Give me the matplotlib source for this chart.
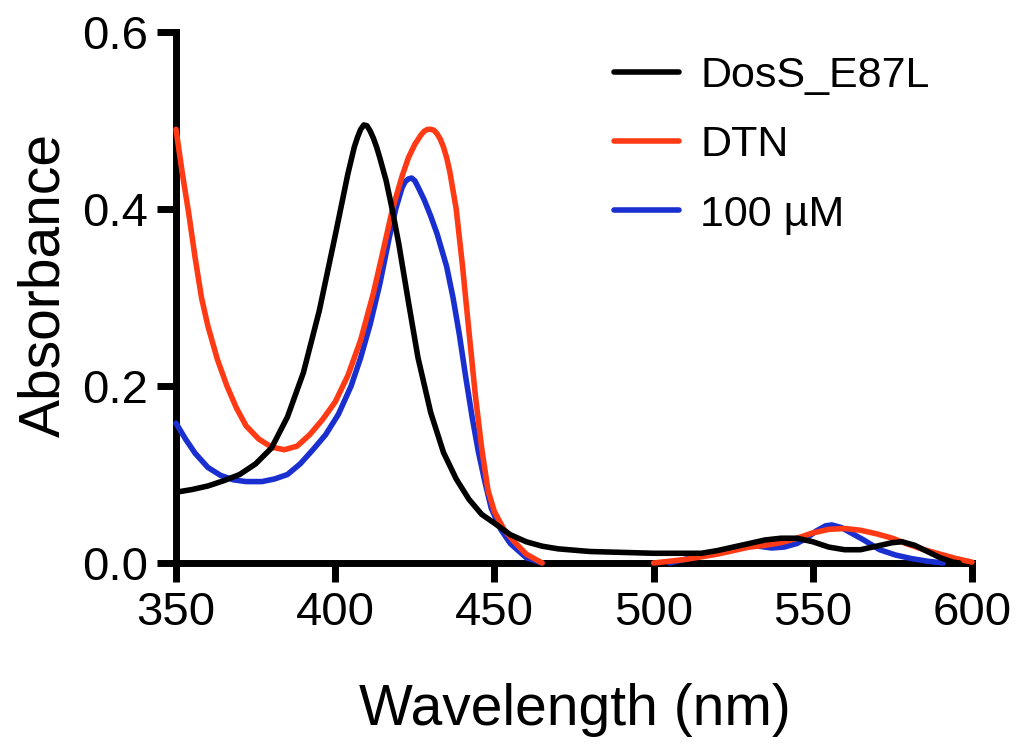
import matplotlib
matplotlib.use("Agg")
import matplotlib.pyplot as plt
import numpy as np

# wavelength (nm) and absorbance
wl_e87l = [350, 355, 360, 365, 370, 375, 380, 385, 390, 395, 400, 402, 404, 406,
           407, 408, 409, 410, 411, 412, 413, 414, 416, 418, 420, 423, 426, 430,
           434, 438, 442, 446, 450, 455, 460, 465, 470, 480, 490, 500, 510, 515,
           520, 525, 530, 535, 540, 545, 550, 555, 560, 565, 570, 575, 578, 582,
           586, 590, 594, 596]
abs_e87l = [0.080, 0.083, 0.087, 0.093, 0.100, 0.112, 0.130, 0.165, 0.215, 0.285,
            0.370, 0.405, 0.440, 0.470, 0.481, 0.490, 0.495, 0.494, 0.488, 0.480,
            0.470, 0.458, 0.432, 0.398, 0.360, 0.295, 0.232, 0.170, 0.125, 0.095,
            0.072, 0.055, 0.045, 0.032, 0.024, 0.019, 0.016, 0.013, 0.012, 0.011,
            0.011, 0.011, 0.014, 0.018, 0.022, 0.026, 0.028, 0.028, 0.024, 0.018,
            0.015, 0.015, 0.019, 0.023, 0.024, 0.020, 0.013, 0.006, 0.001, 0.000]

wl_dtn = [350, 352, 354, 356, 358, 360, 363, 366, 369, 372, 376, 380, 384, 388,
          392, 396, 400, 404, 408, 412, 415, 418, 421, 423, 425, 427, 428, 429,
          430, 431, 432, 433, 434, 435, 436, 438, 440, 442, 444, 446, 448, 450,
          453, 456, 460, 465, 480,
          500, 505, 510, 515, 520, 525, 530, 535, 540, 545, 550, 555, 560, 565,
          570, 575, 580, 585, 590, 595, 600]
abs_dtn = [0.490, 0.440, 0.395, 0.345, 0.300, 0.268, 0.230, 0.200, 0.175, 0.155,
           0.140, 0.131, 0.128, 0.132, 0.145, 0.162, 0.182, 0.212, 0.252, 0.305,
           0.352, 0.400, 0.437, 0.458, 0.473, 0.484, 0.488, 0.490, 0.490, 0.489,
           0.485, 0.479, 0.470, 0.458, 0.442, 0.400, 0.335, 0.262, 0.190, 0.130,
           0.082, 0.058, 0.038, 0.025, 0.010, 0.000, np.nan,
           0.000, 0.002, 0.004, 0.007, 0.010, 0.014, 0.018, 0.020, 0.023, 0.028,
           0.034, 0.038, 0.039, 0.037, 0.033, 0.028, 0.021, 0.015, 0.010, 0.005,
           0.001]

wl_100um = [350, 353, 356, 360, 364, 368, 372, 377, 381, 385, 389, 393, 397, 401,
            405, 408, 411, 414, 417, 419, 421, 422, 423, 424, 425, 426, 428, 430,
            432, 435, 437, 439, 441, 443, 445, 447, 449, 452, 455, 460, 465, 480,
            505, 512, 518, 524, 529, 533, 537, 541, 545, 548, 551, 554, 556, 559,
            562, 566, 571, 576, 581, 586, 591]
abs_100um = [0.158, 0.140, 0.124, 0.108, 0.099, 0.094, 0.092, 0.092, 0.095, 0.100,
             0.112, 0.128, 0.145, 0.168, 0.200, 0.232, 0.270, 0.315, 0.368, 0.400,
             0.424, 0.431, 0.434, 0.435, 0.432, 0.425, 0.410, 0.392, 0.372, 0.335,
             0.300, 0.258, 0.210, 0.165, 0.125, 0.092, 0.062, 0.038, 0.022, 0.006,
             0.000, np.nan,
             0.000, 0.006, 0.012, 0.016, 0.020, 0.019, 0.017, 0.018, 0.022, 0.028,
             0.036, 0.042, 0.043, 0.040, 0.034, 0.026, 0.015, 0.009, 0.005, 0.002,
             0.000]

x_ticks = [350, 400, 450, 500, 550, 600]
y_ticks = [0.0, 0.2, 0.4, 0.6]

plt.rcParams["font.family"] = ["Liberation Sans", "DejaVu Sans"]

fig = plt.figure(figsize=(10.2, 7.52), dpi=100)
ax = fig.add_axes([176 / 1020, 1 - 563 / 752, 796 / 1020, 531 / 752])

line_kw = dict(lw=4, clip_on=False, solid_capstyle="round", solid_joinstyle="round")
ax.plot(wl_100um, abs_100um, color="#1a2fd0", label="100 µM", zorder=3, **line_kw)
ax.plot(wl_dtn, abs_dtn, color="#ff3a14", label="DTN", zorder=4, **line_kw)
ax.plot(wl_e87l, abs_e87l, color="black", label="DosS_E87L", zorder=5, **line_kw)

ax.set_xlim(350, 600)
ax.set_ylim(0, 0.6)
ax.set_xticks(x_ticks)
ax.set_yticks(y_ticks)
ax.set_yticklabels([f"{v:.1f}" for v in y_ticks])

for side in ("top", "right"):
    ax.spines[side].set_visible(False)
for side in ("left", "bottom"):
    ax.spines[side].set_linewidth(5)
ax.tick_params(axis="both", length=14, width=5, labelsize=34, pad=6)

ax.set_xlabel("Wavelength (nm)", fontsize=41, va="center")
ax.xaxis.set_label_coords(0.501, -0.277)
ax.set_ylabel("Absorbance", fontsize=41, va="center")
ax.yaxis.set_label_coords(-0.165, 0.524)

handles, labels = ax.get_legend_handles_labels()
order = [2, 1, 0]
ax.legend([handles[i] for i in order], [labels[i] for i in order],
          loc="upper left", bbox_to_anchor=(614 / 1020, 1 - 56 / 752),
          bbox_transform=fig.transFigure, frameon=False, fontsize=31,
          handlelength=1.5, handletextpad=0.5, labelspacing=0.68,
          borderpad=0, borderaxespad=0)

fig.savefig("out.png", dpi=100)
